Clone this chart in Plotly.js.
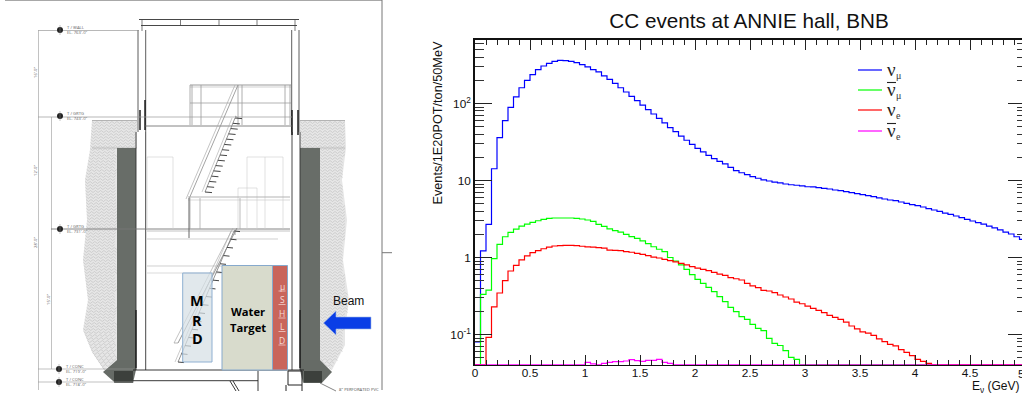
<!DOCTYPE html>
<html><head><meta charset="utf-8">
<script src="https://cdn.plot.ly/plotly-3.0.1.min.js"></script>
<style>html,body{margin:0;padding:0;background:#fff;overflow:hidden;width:1022px;height:401px}</style>
</head><body><div id="chart"></div>
<script>
// ---- histogram data: events per 50 MeV bin (bins with no events are left off the end / marked null)
const binWidth = 0.05, nBins = 100, floorValue = 0.0403;
const numu = [.08,1.22,2.7,14.2,36,60,89,122,160,200,
237,276,307,332,353,364,360,352,339,319,
298,276,257,229,206,183,160,141,124,109,
95.5,83,73,64,56,48.5,43,37.8,33.3,29.5,
26.2,23.5,21.2,19.2,17.7,16.4,14.8,13.4,12.6,11.9,
11.2,10.7,10.2,9.85,9.55,9.3,9.0,8.8,8.67,8.5,
8.3,8.24,8.07,7.9,7.76,7.53,7.37,7.16,6.95,6.74,
6.54,6.35,6.16,5.93,5.75,5.58,5.47,5.26,5.06,4.85,
4.71,4.53,4.3,4.14,3.98,3.78,3.64,3.46,3.29,3.13,
2.98,2.83,2.72,2.56,2.42,2.28,2.14,2.02,1.86,1.72];
const numubar = [null,.332,.378,.966,1.48,1.86,2.12,2.34,2.56,2.72,
2.86,3.0,3.13,3.22,3.26,3.26,3.26,3.26,3.22,3.16,
3.07,2.95,2.70,2.54,2.35,2.23,2.13,2.0,1.87,1.77,
1.64,1.51,1.38,1.28,1.19,1.0,.9,.8,.70,.6,
.52,.46,.41,.36,.31,.267,.225,.198,.171,.157,
.135,.12,.112,.089,.0766,.072,.0617,.0505,.0475];
const nue = [null,null,.092,.228,.346,.5,.668,.79,.93,1.05,
1.16,1.23,1.30,1.36,1.41,1.43,1.44,1.44,1.43,1.40,
1.37,1.36,1.34,1.32,1.25,1.24,1.23,1.19,1.17,1.13,
1.10,1.06,1.01,.985,.947,.91,.875,.84,.80,.76,
.73,.70,.675,.64,.61,.586,.547,.53,.51,.462,
.427,.406,.375,.367,.349,.326,.307,.289,.264,.251,
.234,.219,.206,.192,.177,.167,.157,.145,.129,.118,
.108,.104,.0975,.088,.0807,.0745,.071,.0635,.0586,.0531,
.0475,.0448,.0423];
const nuebar = [null,null,null,null,null,null,null,null,null,null,
null,null,null,null,null,null,null,null,null,null,
.0435,.0416,null,.0422,.0435,.0444,.0444,.0453,.0471,.0457,
.0449,.0462,.0462,.0475,.0435,.0422];
const seriesNames = ['νμ','ν̄μ','νe','ν̄e'];
const legendGlyph = ['ν','ν','ν','ν'];
const legendSub = ['μ','μ','e','e'];
const legendBar = [false,true,false,true];
const seriesColors = ['#0000ff','#00ff00','#ff0000','#ff00ff'];
const xTicks = [0,0.5,1,1.5,2,2.5,3,3.5,4,4.5];
const xTickText = ['0','0.5','1','1.5','2','2.5','3','3.5','4','4.5'];
const yTicks = [0.1,1,10,100];
const yTickText = ['10<sup>-1</sup>','1','10','10<sup>2</sup>'];

const W = 1030, H = 401, PX0 = 475, PX1 = 1025, PY0 = 39.5, PY1 = 365;
const edges = []; for (let i = 0; i <= nBins; i++) edges.push(+(i*binWidth).toFixed(2));
function stepY(v){ const a = []; for (let i = 0; i < nBins; i++){ const c = v[i]; a.push(c==null?floorValue:c); } a.push(a[nBins-1]); return a; }
const all = [numu,numubar,nue,nuebar];
const traces = all.map((v,i)=>({type:'scatter',mode:'lines',x:edges,y:stepY(v),name:seriesNames[i],
  line:{color:seriesColors[i],width:1.2,shape:'hv'},hoverinfo:'skip',showlegend:false}));

// ---- pictorial cross-section on the left, in pixel-like units on a hidden axis pair
const shapes = [], notes = [];
const L=(x0,y0,x1,y1,c='#555',w=0.7)=>shapes.push({type:'line',xref:'x2',yref:'y2',x0,y0,x1,y1,line:{color:c,width:w}});
const R=(x0,y0,x1,y1,fill,c='rgba(0,0,0,0)',w=0)=>shapes.push({type:'rect',xref:'x2',yref:'y2',x0,y0,x1,y1,fillcolor:fill,line:{color:c,width:w}});
const P=(pts,fill,c='rgba(0,0,0,0)',w=0)=>shapes.push({type:'path',xref:'x2',yref:'y2',path:'M'+pts.map(p=>p.join(' ')).join('L')+'Z',fillcolor:fill,line:{color:c,width:w}});
const O=(d,c,w)=>shapes.push({type:'path',xref:'x2',yref:'y2',path:d,line:{color:c,width:w}});
const T=(x,y,text,size,color='#000',extra={})=>notes.push(Object.assign({xref:'x2',yref:'y2',x,y,text,showarrow:false,font:{size,color,family:'"Open Sans","Liberation Sans",sans-serif'},xanchor:'center',yanchor:'middle'},extra));

L(5,0.5,382,0.5,'#a8a8a8',1.2);
L(382,0,382,390,'#777',1);
L(382,252.7,392,252.7,'#777',1);

// soil blocks
function soil(poly){
  P(poly,'#e6e6e6');
  const ys = poly.map(p=>p[1]), y0=Math.min(...ys), y1=Math.max(...ys);
  let d='';
  for(let y=y0+1;y<y1;y+=3){
    const xs=[];
    poly.forEach((p,i)=>{const q=poly[(i+1)%poly.length];
      if((p[1]<=y&&q[1]>y)||(q[1]<=y&&p[1]>y)) xs.push(p[0]+(y-p[1])*(q[0]-p[0])/(q[1]-p[1]));});
    if(xs.length<2) continue;
    const a=Math.min(...xs),b=Math.max(...xs);
    let s='M'+a+' '+y; let up=0;
    for(let x=a+2.5;x<b;x+=2.5){ s+='L'+x+' '+(y+(up%2?0:2)); up++; }
    d+=s;
  }
  O(d,'#b4b4b4',0.5);
}
soil([[92,120.5],[137,120.5],[137,148],[117,148],[117,360],[104,370],[92,352],[83,330],[88,300],[83,260],[87,220],[85,180],[90,150]]);
soil([[300,120.5],[345,120.5],[346,148],[342,180],[347,220],[343,260],[349,300],[345,330],[345,345],[332,370],[320,360],[320,148],[300,148]]);
L(92,120.5,137,120.5,'#888',0.6); L(300,120.5,345,120.5,'#888',0.6);
L(92,148,137,148,'#999',0.5); L(300,148,345,148,'#999',0.5);

// concrete shells
function concrete(x0,x1,y0,y1){
  R(x0,y0,x1,y1,'#686d68');
  let d='';
  for(let y=y0+1.5,r=0;y<y1;y+=2.4,r++) for(let x=x0+0.6+(r%2)*1.2;x<x1;x+=2.4) d+='M'+x+' '+y+'h1';
  O(d,'#a8aca8',1);
}
concrete(117,136,148,360); concrete(300,320,148,360);
P([[117,360],[136,360],[136,370],[133,382.7],[115,382.7],[103,372]],'#666b66');
P([[320,360],[300,360],[300,370],[303,382.7],[322,382.7],[332,372]],'#666b66');
R(114,371,133,382.7,'#3c403c'); R(304,371,322,382.7,'#3c403c');

// walls
[[138,145.7],[291.7,299]].forEach(([a,b])=>{
  L(a,30,a,132,'#333',0.8); L(b,30,b,132,'#333',0.8);
  const mid=(a+b)/2; let d='';
  for(let y=34;y<370;y+=8.8) d+='M'+(mid-0.6)+' '+y+'h1.2';
  O(d,'#222',1.4);
});
L(136,132,136,370,'#333',0.9); L(145.7,132,145.7,370,'#333',0.9);
L(292,132,292,370,'#333',0.9); L(300,132,300,370,'#333',0.9);
L(145,100,145,130,'#111',1.4); L(292,110,292,135,'#111',1.4); L(298,110,298,135,'#111',1.4); L(140,110,140,130,'#111',1.4);
L(136,310,136,368,'#111',1.2); L(300,310,300,368,'#111',1.2);
// roof
L(139,19.5,299,19.5,'#333',0.9); L(141,25.5,297,25.5,'#333',0.9);
[142,180.5,219,257,295].forEach(x=>L(x,20,x,25.5,'#444',0.7));
L(142,25,142,31,'#444',0.7); L(295,25,295,31,'#444',0.7);

// dimension lines and level markers
L(38.5,30.5,38.5,390,'#999',0.6); L(51.5,117,51.5,369,'#999',0.6);
L(38,30.5,139,30.5,'#888',0.6); L(38,117,292,117,'#999',0.7); L(145,126,292,126,'#666',0.8);
L(51,229,290,229,'#777',0.9); L(147,231,290,231,'#aaa',0.7); L(147,239,278,239,'#bbb',0.7);
L(147,266,222,266,'#bbb',0.7); L(147,273,222,273,'#ccc',0.7);
L(38,369,134,369,'#999',0.6); L(38,382,134,382,'#999',0.6);
[[60,30,'T / WALL','EL. 763\'-0"'],[60,116,'T / GRTG','EL. 743\'-0"'],[60,229,'T / GRTG','EL. 731\'-0"'],[59,369,'T / CONC','EL. 719\'-0"'],[59,382,'T / CONC','EL. 718\'-0"']].forEach(([x,y,a,b])=>{
  shapes.push({type:'circle',xref:'x2',yref:'y2',x0:x-3,x1:x+3,y0:y-3,y1:y+3,fillcolor:'#222',line:{width:0}});
  L(x,y-5,x,y+5,'#888',0.5);
  T(x+5,y-2.2,a,4.2,'#666',{xanchor:'left'});
  T(x+5,y+2.4,b,4.2,'#666',{xanchor:'left'});
});
[[35,73,'16\'-0"'],[35,171,'12\'-0"'],[35,243,'28\'-0"'],[48,300,'15\'-0"']].forEach(([x,y,t])=>T(x,y,t,4.2,'#666',{textangle:-90}));

// upper platform railing
L(190,85,291,85,'#999',1.1); L(190,87,291,87,'#bbb',0.7); L(190,103,291,103,'#aaa',0.9);
[190,192,201,238,242,285,290].forEach(x=>L(x,85,x,125,'#999',0.8));
// lower rooms
[147,173].forEach(x=>L(x,157,x,229,'#ccc',0.6)); L(147,157,173,157,'#ccc',0.6);
[247,265,283].forEach(x=>L(x,157,x,229,'#ccc',0.6)); L(247,157,283,157,'#ccc',0.6);
R(238,188,257,229,'rgba(0,0,0,0)','#ccc',0.6);
L(188,197,290,197,'#aaa',0.9); L(188,200,290,200,'#ccc',0.7);
[190,200,240].forEach(x=>L(x,198,x,229,'#aaa',0.8));
L(189,198,189,238,'#666',1);
// stairs
function stair(x0,y0,x1,y1,dx,n){
  L(x0,y0,x1,y1,'#888',0.9); L(x0-3,y0,x1-3,y1,'#aaa',0.6);
  for(let i=0;i<=n;i++){ const t=i/n; const x=x1+(x0-x1)*t, y=y1+(y0-y1)*t; L(x,y,x+dx,y+0.6,'#444',1); }
}
L(238,85,189,199,'#999',0.9); L(235,85,186,199,'#aaa',0.7);
stair(235,118,205,192,7,14); L(235,116,238,118,'#888',0.8);
L(237,228,178,343,'#888',0.9); L(233,228,174,343,'#aaa',0.7); L(174,343,178,343,'#999',0.7);
stair(234,231,178,362,6,16);
L(235,235,235,230,'#888',0.8);

// floor
L(133,370,304,370,'#222',0.9); L(133,380.7,258,380.7,'#222',0.9);
let floorDots=''; for(let x=136;x<258;x+=7) floorDots+='M'+x+' 375h1.2M'+x+' 380.7h1.2'; O(floorDots,'#333',1.1);
L(230,381,236,391,'#222',0.9); L(233,381,239,391,'#222',0.9); L(258,371,258,391,'#222',0.9);
R(288,371,302,385,'rgba(0,0,0,0)','#222',1); L(286,385,286,391,'#222',1); L(302,385,302,391,'#222',1);
L(320,383,336,391,'#333',0.6);
T(359,389,'8" PERFORATED PVC',4.2,'#555');

// detector boxes
R(182.7,273,212,362,'rgba(214,223,228,0.72)','#8fb0d2',1);
R(222,265.5,272.5,370,'#d8dbcc','#86a9cc',1);
R(272.5,265.5,287.5,370,'#c9655b','#86a9cc',1);
T(197,300.5,'<b>M</b>',14.5); T(197,320,'<b>R</b>',14.5); T(197,338,'<b>D</b>',14.5);
T(247.5,311,'<b>Water</b>',11.2); T(247.5,327,'<b>Target</b>',11.2);
['µ','S','H','L','D'].forEach((s,i)=>{ T(282,286+i*13.5,s,8.5,'#f6dcd8'); L(278.5,291+i*13.5,285.5,291+i*13.5,'#f6dcd8',0.7); });
T(348,300.5,'Beam',12,'#000',{font:{size:12,color:'#111',family:'"Liberation Sans",sans-serif'}});
P([[323.5,323],[336,311],[336,317],[371,317],[371,329],[336,329],[336,335]],'#0a3ee6','#9fb8e8',0.6);

// chart texts
const txt={color:'#111',family:'"Liberation Sans",sans-serif'};
notes.push({xref:'paper',yref:'paper',x:437/W,y:1-40/H,text:'Events/1E20POT/ton/50MeV',textangle:-90,showarrow:false,
  xanchor:'center',yanchor:'top',font:Object.assign({size:12.7},txt)});
notes.push({xref:'paper',yref:'paper',x:1022/W,y:1-387/H,text:'E<sub>ν</sub> (GeV)',showarrow:false,
  xanchor:'right',yanchor:'middle',font:Object.assign({size:12},txt)});
notes.push({xref:'paper',yref:'paper',x:1021.5/W,y:1-374/H,text:'5',showarrow:false,xanchor:'center',yanchor:'middle',
  font:Object.assign({size:11.8},txt)});

// legend keys, placed where the reference has them
const legendRowY=[70,90,110,131];
legendRowY.forEach((y,i)=>{
  shapes.push({type:'line',xref:'paper',yref:'paper',x0:858/W,x1:882/W,y0:1-y/H,y1:1-y/H,line:{color:seriesColors[i],width:1.2}});
  notes.push({xref:'paper',yref:'paper',x:887/W,y:1-(y-1)/H,text:legendGlyph[i],showarrow:false,xanchor:'left',yanchor:'middle',xshift:-2,
    font:{size:19,color:'#222',family:'"Liberation Serif",serif'}});
  notes.push({xref:'paper',yref:'paper',x:896/W,y:1-(y+6)/H,text:legendSub[i],showarrow:false,xanchor:'left',yanchor:'middle',xshift:-2,
    font:{size:10,color:'#333',family:'"Liberation Serif",serif'}});
  if(legendBar[i]) shapes.push({type:'line',xref:'paper',yref:'paper',x0:887/W,x1:896/W,y0:1-(y-7.5)/H,y1:1-(y-7.5)/H,line:{color:'#222',width:1.1}});
});

const axisFont=Object.assign({size:11.8},txt);
const layout={
  width:W,height:H,margin:{l:0,r:0,t:0,b:0},paper_bgcolor:'#fff',plot_bgcolor:'rgba(0,0,0,0)',
  title:{text:'CC events at ANNIE hall, BNB',x:749/W,xanchor:'center',xref:'paper',y:1-20.5/H,yanchor:'middle',yref:'container',
    font:Object.assign({size:20.7},txt)},
  xaxis:{domain:[PX0/W,PX1/W],range:[0,5],anchor:'y',showgrid:false,zeroline:false,showline:true,linecolor:'#111',linewidth:1.4,mirror:'allticks',
    ticks:'inside',ticklen:10,tickwidth:1,tickcolor:'#222',tickmode:'array',tickvals:xTicks,ticktext:xTickText,tickfont:axisFont,ticklabelstandoff:-4,
    minor:{ticks:'inside',ticklen:5,tickwidth:1,tickcolor:'#222',dtick:0.1,showgrid:false}},
  yaxis:{domain:[1-PY1/H,1-PY0/H],type:'log',range:[-1.396,2.831],anchor:'x',showgrid:false,zeroline:false,showline:true,linecolor:'#111',linewidth:1.8,mirror:'allticks',
    ticks:'inside',ticklen:17,tickwidth:1,tickcolor:'#222',tickmode:'array',tickvals:yTicks,ticktext:yTickText,tickfont:axisFont,
    minor:{ticks:'inside',ticklen:8.5,tickwidth:1,tickcolor:'#333',tickmode:'array',
      tickvals:[.05,.06,.07,.08,.09,.2,.3,.4,.5,.6,.7,.8,.9,2,3,4,5,6,7,8,9,20,30,40,50,60,70,80,90,200,300,400,500,600],showgrid:false}},
  xaxis2:{domain:[0,400/W],range:[0,400],anchor:'y2',visible:false,fixedrange:true},
  yaxis2:{domain:[0,1],range:[401,0],anchor:'x2',visible:false,fixedrange:true},
  showlegend:false,shapes,annotations:notes
};
Plotly.newPlot('chart',traces,layout,{displayModeBar:false,staticPlot:true});
</script></body></html>
